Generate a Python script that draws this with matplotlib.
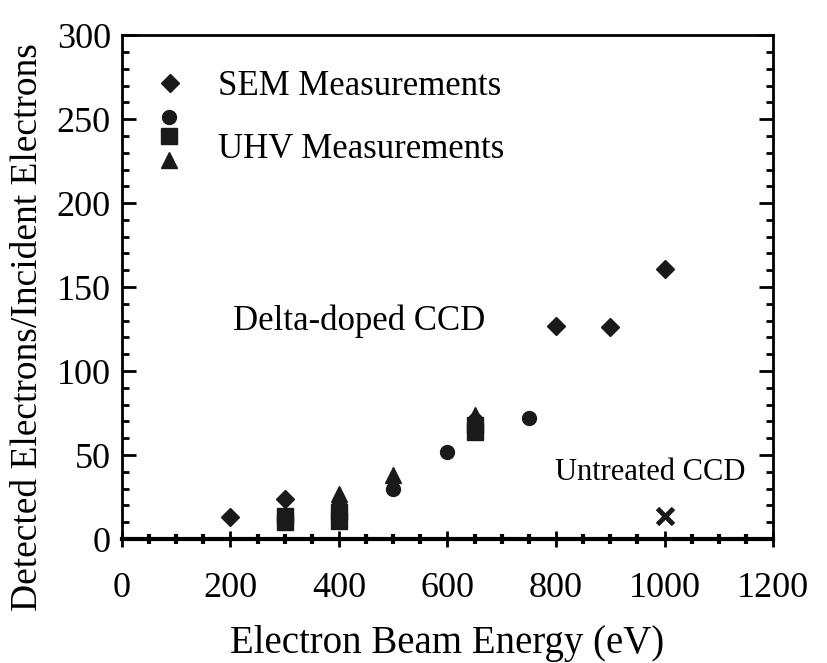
import matplotlib
matplotlib.use("Agg")
import matplotlib.pyplot as plt
from matplotlib.ticker import MultipleLocator

plt.rcParams['font.family'] = ['Liberation Serif', 'DejaVu Serif']

# Data
sem_x = [200, 300, 800, 900, 1000]
sem_y = [13, 24, 127, 126, 161]
uhv_circle_x = [400, 500, 600, 650, 750]
uhv_circle_y = [20, 30, 52, 71, 72]
uhv_square_x = [300, 300, 400, 400, 650, 650]
uhv_square_y = [10, 14, 11, 16, 64, 68]
uhv_tri_x = [400, 500, 650]
uhv_tri_y = [27, 38, 74]
untreated_x = [1000]
untreated_y = [14]

x_ticks = [0, 200, 400, 600, 800, 1000, 1200]
y_ticks = [0, 50, 100, 150, 200, 250, 300]

fig = plt.figure(figsize=(8.28, 6.63), dpi=100)
ax = fig.add_axes([0.1473, 0.187, 0.7863, 0.760])

mc = '#1a1a1a'
ax.plot(sem_x, sem_y, linestyle='none', marker='D', markersize=9, color=mc)
ax.plot(uhv_circle_x, uhv_circle_y, linestyle='none', marker='o', markersize=10, color=mc)
ax.plot(uhv_square_x, uhv_square_y, linestyle='none', marker='s', markersize=11, color=mc)
ax.plot(uhv_tri_x, uhv_tri_y, linestyle='none', marker='^', markersize=12, color=mc)
ax.plot(untreated_x, untreated_y, linestyle='none', marker='x', markersize=12,
        markeredgewidth=3.5, color=mc)

# legend-like annotation (drawn in axes coordinates)
ax.plot([0.074], [0.905], transform=ax.transAxes, marker='D', markersize=9, color=mc,
        linestyle='none', clip_on=False)
ax.plot([0.073], [0.838], transform=ax.transAxes, marker='o', markersize=10, color=mc,
        linestyle='none', clip_on=False)
ax.plot([0.073], [0.800], transform=ax.transAxes, marker='s', markersize=11, color=mc,
        linestyle='none', clip_on=False)
ax.plot([0.073], [0.752], transform=ax.transAxes, marker='^', markersize=12, color=mc,
        linestyle='none', clip_on=False)
ax.text(0.147, 0.898, 'SEM Measurements', transform=ax.transAxes, fontsize=25,
        va='center', ha='left')
ax.text(0.147, 0.773, 'UHV Measurements', transform=ax.transAxes, fontsize=25,
        va='center', ha='left')
ax.text(0.170, 0.433, 'Delta-doped CCD', transform=ax.transAxes, fontsize=25,
        va='center', ha='left')
ax.text(0.665, 0.132, 'Untreated CCD', transform=ax.transAxes, fontsize=22,
        va='center', ha='left')

ax.set_xlim(0, 1200)
ax.set_ylim(0, 300)
ax.set_xticks(x_ticks)
ax.set_yticks(y_ticks)
ax.xaxis.set_minor_locator(MultipleLocator(50))
ax.yaxis.set_minor_locator(MultipleLocator(10))

ax.tick_params(axis='x', which='major', direction='inout', length=12, width=2,
               labelsize=26, pad=18, top=False)
ax.tick_params(axis='x', which='minor', direction='inout', length=7, width=3, top=False)
ax.tick_params(axis='y', which='major', direction='in', length=10, width=2,
               labelsize=26, pad=8, right=True)
ax.tick_params(axis='y', which='minor', direction='in', length=5, width=2, right=True)

for s in ['left', 'right', 'top']:
    ax.spines[s].set_linewidth(2)
ax.spines['bottom'].set_linewidth(3)

ax.set_xlabel('Electron Beam Energy (eV)', fontsize=28, labelpad=14)
ax.set_ylabel('Detected Electrons/Incident Electrons', fontsize=27)
ax.yaxis.set_label_coords(-0.118, 0.42)

fig.savefig('out.png', dpi=100, facecolor='white')
